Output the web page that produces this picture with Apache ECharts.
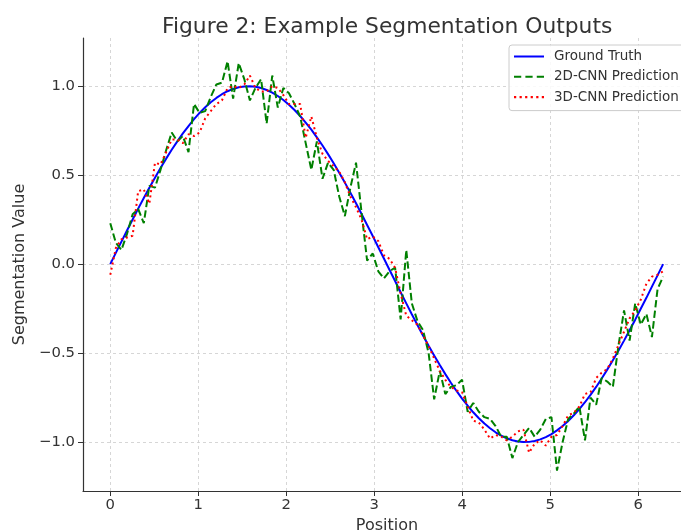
<!DOCTYPE html>
<html><head><meta charset="utf-8">
<script src="https://cdn.jsdelivr.net/npm/echarts@6/dist/echarts.min.js"></script>
<style>html,body{margin:0;padding:0;background:#fff}#c{width:681px;height:532px}</style>
</head><body><div id="c"></div>
<script>
// x positions (0 .. 2*pi, 100 samples)
const positions = [0,0.063,0.127,0.190,0.254,0.317,0.381,0.444,0.508,0.571,
0.635,0.698,0.762,0.825,0.889,0.952,1.015,1.079,1.142,1.206,
1.269,1.333,1.396,1.460,1.523,1.587,1.650,1.714,1.777,1.841,
1.904,1.967,2.031,2.094,2.158,2.221,2.285,2.348,2.412,2.475,
2.539,2.602,2.666,2.729,2.793,2.856,2.919,2.983,3.046,3.110,
3.173,3.237,3.300,3.364,3.427,3.491,3.554,3.618,3.681,3.745,
3.808,3.871,3.935,3.998,4.062,4.125,4.189,4.252,4.316,4.379,
4.443,4.506,4.570,4.633,4.696,4.760,4.823,4.887,4.950,5.014,
5.077,5.141,5.204,5.268,5.331,5.395,5.458,5.522,5.585,5.648,
5.712,5.775,5.839,5.902,5.966,6.029,6.093,6.156,6.220,6.283];

const groundTruth = [0,0.0634,0.1266,0.1893,0.2511,0.3120,0.3717,0.4298,0.4862,0.5406,
0.5929,0.6428,0.6901,0.7346,0.7761,0.8146,0.8497,0.8815,0.9096,0.9341,
0.9549,0.9718,0.9848,0.9938,0.9989,0.9999,0.9969,0.9898,0.9788,0.9639,
0.9450,0.9224,0.8960,0.8660,0.8326,0.7958,0.7558,0.7127,0.6668,0.6182,
0.5671,0.5137,0.4582,0.4009,0.3420,0.2817,0.2203,0.1580,0.0951,0.0317,
-0.0317,-0.0951,-0.1580,-0.2203,-0.2817,-0.3420,-0.4009,-0.4582,-0.5137,-0.5671,
-0.6182,-0.6668,-0.7127,-0.7558,-0.7958,-0.8326,-0.8660,-0.8960,-0.9224,-0.9450,
-0.9639,-0.9788,-0.9898,-0.9969,-0.9999,-0.9989,-0.9938,-0.9848,-0.9718,-0.9549,
-0.9341,-0.9096,-0.8815,-0.8497,-0.8146,-0.7761,-0.7346,-0.6901,-0.6428,-0.5929,
-0.5406,-0.4862,-0.4298,-0.3717,-0.3120,-0.2511,-0.1893,-0.1266,-0.0634,0];

const pred2d = [0.23,0.12,0.08,0.17,0.28,0.31,0.23,0.44,0.43,0.53,
0.64,0.74,0.69,0.72,0.63,0.90,0.85,0.86,0.94,1.01,
1.02,1.14,0.93,1.13,1.04,0.92,0.99,1.04,0.79,1.06,
0.88,0.99,0.96,0.90,0.83,0.68,0.53,0.69,0.48,0.57,
0.53,0.38,0.27,0.43,0.57,0.29,0.02,0.06,-0.04,-0.08,
-0.04,-0.02,-0.31,0.08,-0.22,-0.32,-0.37,-0.50,-0.76,-0.60,
-0.73,-0.69,-0.68,-0.65,-0.83,-0.78,-0.83,-0.86,-0.87,-0.91,
-0.97,-0.97,-1.09,-1.00,-0.96,-0.92,-0.97,-0.93,-0.87,-0.86,
-1.16,-1.00,-0.87,-0.84,-0.80,-0.99,-0.75,-0.79,-0.64,-0.66,
-0.69,-0.46,-0.26,-0.43,-0.22,-0.34,-0.28,-0.41,-0.14,-0.07];

const pred3d = [-0.06,0.09,0.14,0.15,0.16,0.41,0.42,0.34,0.57,0.56,
0.63,0.70,0.70,0.68,0.73,0.72,0.74,0.82,0.86,0.90,
0.92,0.99,1.00,0.99,1.01,1.06,0.99,0.97,0.97,1.00,
0.99,0.95,0.90,0.90,0.90,0.71,0.83,0.71,0.62,0.58,
0.55,0.52,0.46,0.38,0.32,0.25,0.14,0.155,0.13,0.05,
0.03,-0.02,-0.165,-0.29,-0.315,-0.34,-0.40,-0.46,-0.53,-0.60,
-0.65,-0.69,-0.71,-0.72,-0.80,-0.88,-0.89,-0.93,-0.98,-0.96,
-0.97,-0.99,-0.97,-0.94,-0.93,-1.06,-1.01,-0.99,-1.02,-0.97,
-0.96,-0.91,-0.85,-0.835,-0.80,-0.73,-0.72,-0.64,-0.61,-0.59,
-0.53,-0.455,-0.38,-0.305,-0.26,-0.20,-0.11,-0.07,-0.06,-0.04];

const xTicks = [0,1,2,3,4,5,6];
const yTicks = [-1.0,-0.5,0.0,0.5,1.0];
const seriesNames = ['Ground Truth','2D-CNN Prediction','3D-CNN Prediction'];
const titleText = 'Figure 2: Example Segmentation Outputs';
const xName = 'Position';
const yName = 'Segmentation Value';

const FONT = 'DejaVu Sans';
const pair = arr => positions.map((x, i) => [x, arr[i]]);
const fmtY = v => (v < 0 ? '\u2212' : '') + Math.abs(v).toFixed(1);

// legend sample glyphs (solid / dashed / dotted strokes)
const ICON_SOLID = 'path://M0,0h30v2h-30z';
const ICON_DASHED = 'path://M0,0h7v2h-7z M11,0h7v2h-7z M22,0h7v2h-7z';
const ICON_DOTTED = 'path://M0,0h2v2h-2z M5,0h2v2h-2z M10,0h2v2h-2z M15,0h2v2h-2z M20,0h2v2h-2z M25,0h2v2h-2z';

const chart = echarts.init(document.getElementById('c'), null, {renderer: 'canvas'});
const gridLine = {show: true, lineStyle: {color: '#cccccc', width: 0.8, type: [3, 3]}};
chart.setOption({
  animation: false,
  backgroundColor: '#ffffff',
  textStyle: {fontFamily: FONT},
  title: {
    text: titleText, left: 157, top: 11,
    textStyle: {fontFamily: FONT, fontSize: 21.8, fontWeight: 'normal', color: '#333333'}
  },
  grid: {left: 83, width: 608, top: 38, height: 453, containLabel: false, outerBoundsMode: 'none'},
  xAxis: {
    type: 'value', min: -0.31, max: 6.6,
    name: xName, nameLocation: 'middle', nameGap: 21,
    nameTextStyle: {fontFamily: FONT, fontSize: 16, color: '#333333'},
    axisLine: {show: true, onZero: false, lineStyle: {color: '#333333', width: 1.2}},
    axisTick: {show: true, inside: false, length: 5, customValues: xTicks, lineStyle: {color: '#333333'}},
    axisLabel: {customValues: xTicks, margin: 7, fontFamily: FONT, fontSize: 14.8, color: '#333333', formatter: v => String(v)},
    splitLine: gridLine
  },
  yAxis: {
    type: 'value', min: -1.275, max: 1.271,
    name: yName, nameLocation: 'middle', nameGap: 47, nameRotate: 90,
    nameTextStyle: {fontFamily: FONT, fontSize: 16, color: '#333333'},
    axisLine: {show: true, onZero: false, lineStyle: {color: '#333333', width: 1.2}},
    axisTick: {show: true, inside: false, length: 5, customValues: yTicks, lineStyle: {color: '#333333'}},
    axisLabel: {customValues: yTicks, margin: 8, fontFamily: FONT, fontSize: 14.8, color: '#333333', formatter: fmtY},
    splitLine: gridLine
  },
  legend: {
    orient: 'vertical', left: 509, top: 45,
    itemWidth: 30, itemHeight: 15, itemGap: 5.3, symbolKeepAspect: true,
    padding: [4, 12, 6, 5],
    backgroundColor: 'rgba(255,255,255,0.85)', borderColor: '#cccccc', borderWidth: 1, borderRadius: 3,
    textStyle: {fontFamily: FONT, fontSize: 13.5, lineHeight: 15, color: '#333333', padding: [0, 0, 0, 5]},
    data: [
      {name: seriesNames[0], icon: ICON_SOLID, itemStyle: {color: '#0000ff'}},
      {name: seriesNames[1], icon: ICON_DASHED, itemStyle: {color: '#008000'}},
      {name: seriesNames[2], icon: ICON_DOTTED, itemStyle: {color: '#ff0000'}}
    ]
  },
  series: [
    {name: seriesNames[0], type: 'line', data: pair(groundTruth), symbol: 'none', showSymbol: false,
     lineStyle: {color: '#0000ff', width: 2}, itemStyle: {color: '#0000ff'}, z: 2},
    {name: seriesNames[1], type: 'line', data: pair(pred2d), symbol: 'none', showSymbol: false,
     lineStyle: {color: '#008000', width: 2, type: [7.4, 3.2]}, itemStyle: {color: '#008000'}, z: 3},
    {name: seriesNames[2], type: 'line', data: pair(pred3d), symbol: 'none', showSymbol: false,
     lineStyle: {color: '#ff0000', width: 2, type: [2, 3.3]}, itemStyle: {color: '#ff0000'}, z: 4}
  ]
});
</script>
</body></html>
